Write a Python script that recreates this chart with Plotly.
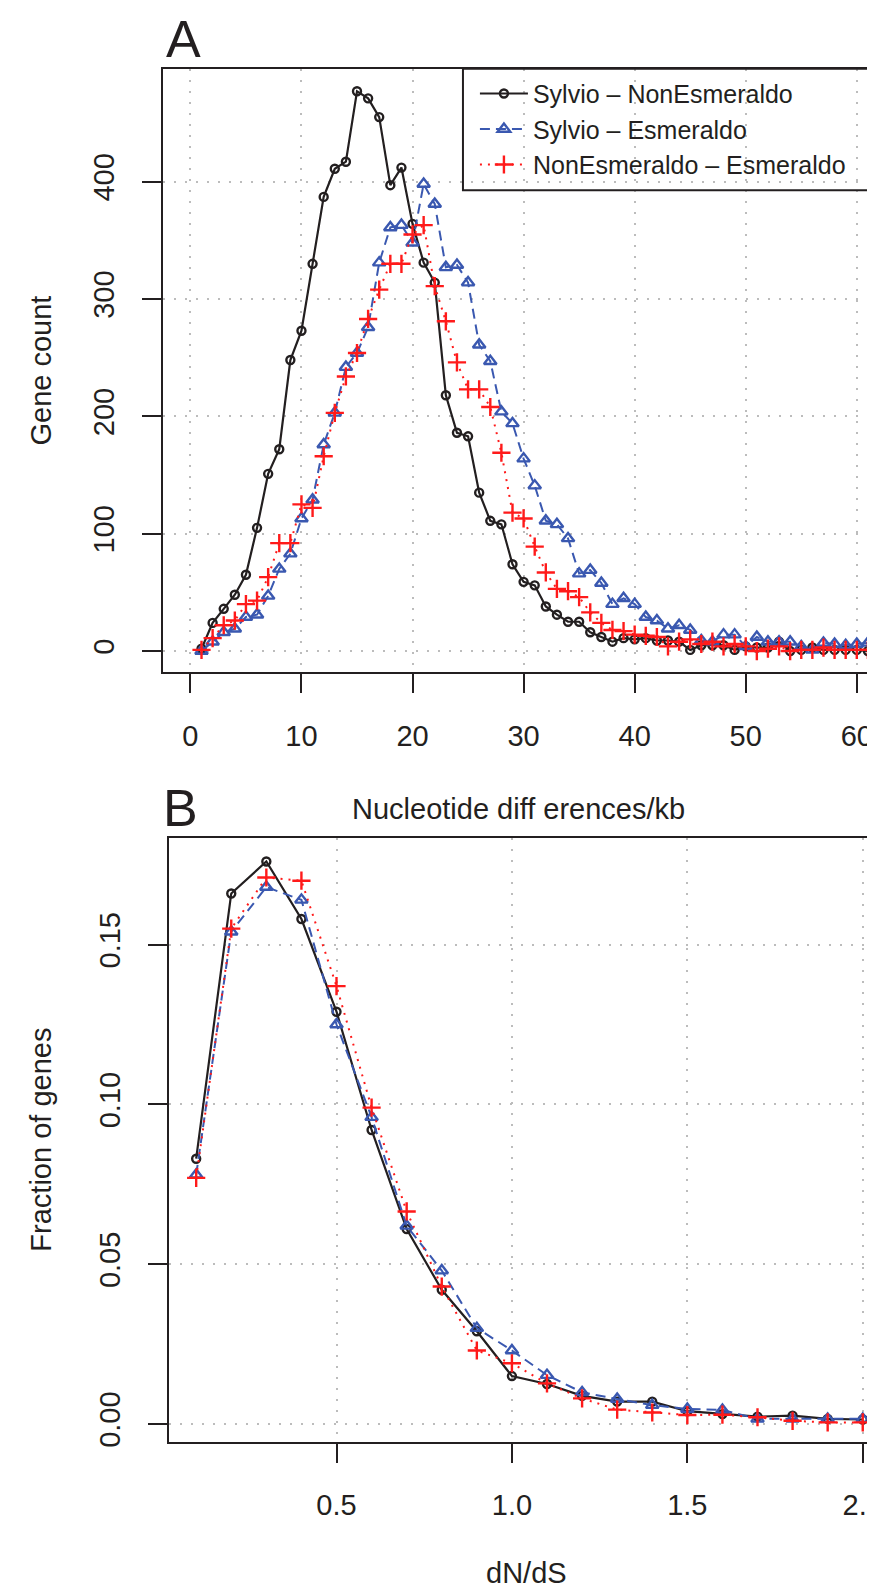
import plotly.graph_objects as go

W, H = 875, 1589

# ---------------- Panel A data ----------------
diff_kb = list(range(1, 63))
sylvio_nonesm_A = [2, 24, 36, 48, 65, 105, 151, 172, 248, 273,
                   330, 387, 411, 417, 477, 471, 455, 397, 412, 364,
                   331, 314, 218, 186, 183, 135, 111, 108, 74, 59,
                   56, 38, 31, 25, 25, 16, 12, 8, 11, 10,
                   11, 9, 9, 8, 1, 5, 5, 5, 1, 4,
                   3, 3, 8, 0, 1, 3, 1, 1, 1, 1,
                   0, 3]
sylvio_esm_A = [0, 8, 16, 19, 29, 31, 47, 70, 83, 113,
                129, 176, 203, 242, 254, 276, 331, 361, 363, 348,
                398, 381, 327, 329, 314, 261, 247, 204, 194, 164,
                141, 111, 108, 96, 66, 69, 58, 40, 45, 40,
                29, 26, 19, 22, 18, 9, 8, 14, 14, 4,
                12, 8, 8, 8, 4, 1, 7, 6, 5, 6,
                7, 4]
nonesm_esm_A = [1, 11, 22, 26, 40, 43, 63, 92, 92, 125,
                122, 166, 203, 234, 254, 283, 308, 330, 330, 355,
                363, 311, 281, 246, 223, 223, 208, 169, 118, 113,
                89, 67, 53, 51, 46, 33, 24, 18, 17, 14,
                13, 12, 4, 8, 10, 6, 8, 4, 6, 4,
                0, 2, 4, 0, 1, 1, 3, 1, 1, 1,
                1, 0]

# ---------------- Panel B data ----------------
dnds = [0.1, 0.2, 0.3, 0.4, 0.5, 0.6, 0.7, 0.8, 0.9, 1.0,
        1.1, 1.2, 1.3, 1.4, 1.5, 1.6, 1.7, 1.8, 1.9, 2.0]
sylvio_nonesm_B = [0.083, 0.166, 0.176, 0.158, 0.129, 0.092, 0.061, 0.042, 0.029, 0.015,
                   0.0125, 0.0088, 0.0070, 0.0070, 0.0040, 0.0031, 0.0023, 0.0026, 0.0016, 0.0014]
sylvio_esm_B = [0.078, 0.154, 0.168, 0.164, 0.125, 0.096, 0.062, 0.048, 0.030, 0.023,
                0.0153, 0.0099, 0.0078, 0.0059, 0.0047, 0.0044, 0.0016, 0.0016, 0.0016, 0.0016]
nonesm_esm_B = [0.077, 0.155, 0.171, 0.170, 0.137, 0.099, 0.0665, 0.043, 0.023, 0.019,
                0.0127, 0.0080, 0.0045, 0.0036, 0.0028, 0.0029, 0.0021, 0.0010, 0.0005, 0.0005]

series_names = ["Sylvio \u2013 NonEsmeraldo", "Sylvio \u2013 Esmeraldo", "NonEsmeraldo \u2013 Esmeraldo"]

x_ticks_A = [0, 10, 20, 30, 40, 50, 60]
y_ticks_A = [0, 100, 200, 300, 400]
x_ticks_B = [0.5, 1.0, 1.5, 2.0]
x_ticklabels_B = ["0.5", "1.0", "1.5", "2.0"]
y_ticks_B = [0.00, 0.05, 0.10, 0.15]
y_ticklabels_B = ["0.00", "0.05", "0.10", "0.15"]

INK = "#231f20"
BLUE = "#3a58b0"
RED = "#ff1a1a"
FONT = "Liberation Sans"

styles = [
    dict(line=dict(color=INK, width=2.2, dash="solid"),
         marker=dict(symbol="circle-open", size=8, color=INK, line=dict(width=2.4, color=INK))),
    dict(line=dict(color=BLUE, width=2, dash="10px,6px"),
         marker=dict(symbol="triangle-up-open", size=11, color=BLUE, line=dict(width=2.4, color=BLUE))),
    dict(line=dict(color=RED, width=2, dash="2px,6px"),
         marker=dict(symbol="cross-thin-open", size=13, color=RED, line=dict(width=2.4, color=RED))),
]

fig = go.Figure()

for name, ys, st in zip(series_names, [sylvio_nonesm_A, sylvio_esm_A, nonesm_esm_A], styles):
    fig.add_trace(go.Scatter(x=diff_kb, y=ys, mode="lines+markers", name=name,
                             line=st["line"], marker=st["marker"],
                             xaxis="x", yaxis="y", showlegend=True, cliponaxis=True))

for name, ys, st in zip(series_names, [sylvio_nonesm_B, sylvio_esm_B, nonesm_esm_B], styles):
    fig.add_trace(go.Scatter(x=dnds, y=ys, mode="lines+markers", name=name,
                             line=st["line"], marker=st["marker"],
                             xaxis="x2", yaxis="y2", showlegend=False, cliponaxis=True))

def px_x(v):
    return v / W

def px_y(v):
    return 1 - v / H

# panel geometry (pixels)
A_left, A_top, A_bottom = 155, 61, 667
B_left, B_top, B_bottom = 161, 833, 1439

axis_common = dict(
    showline=True, linecolor=INK, linewidth=2,
    ticks="outside", ticklen=19, tickwidth=1.6, tickcolor=INK,
    showgrid=True, gridcolor="#bcbcbc", griddash="2px,9px", gridwidth=1.6,
    zeroline=False,
    tickfont=dict(family=FONT, size=29, color=INK),
    ticklabeloverflow="allow",
)

fig.update_layout(
    width=W, height=H,
    margin=dict(l=0, r=0, t=0, b=0),
    paper_bgcolor="white", plot_bgcolor="white",
    font=dict(family=FONT, color=INK),
    xaxis=dict(domain=[px_x(A_left), 1], range=[-2.5, 62.18], anchor="y",
               tickvals=x_ticks_A, mirror=True, ticklabelstandoff=18, **axis_common),
    yaxis=dict(domain=[px_y(A_bottom), px_y(A_top)], range=[-18.25, 496.2], anchor="x",
               tickvals=y_ticks_A, tickangle=-90, mirror=False, ticklabelstandoff=16, **axis_common),
    xaxis2=dict(domain=[px_x(B_left), 1], range=[0.0215, 2.052], anchor="y2",
                tickvals=x_ticks_B, ticktext=x_ticklabels_B, mirror=True, ticklabelstandoff=18, **axis_common),
    yaxis2=dict(domain=[px_y(B_bottom), px_y(B_top)], range=[-0.0055, 0.1834], anchor="x2",
                tickvals=y_ticks_B, ticktext=y_ticklabels_B, tickangle=-90, mirror=False,
                ticklabelstandoff=16, **axis_common),
    legend=dict(x=px_x(468), y=px_y(63), xanchor="left", yanchor="top",
                bgcolor="rgba(0,0,0,0)", borderwidth=0,
                font=dict(family=FONT, size=25, color=INK),
                itemwidth=48, tracegroupgap=0),
    showlegend=True,
)

# legend frame (extends past the right edge, as in the original)
fig.add_shape(type="rect", xref="paper", yref="paper",
              x0=px_x(456), x1=px_x(900), y0=px_y(183), y1=px_y(61),
              line=dict(color=INK, width=2), fillcolor="rgba(0,0,0,0)", layer="above")

ann = [
    dict(text="A", x=px_x(176), y=px_y(31), size=52, angle=0, ya="middle"),
    dict(text="Gene count", x=px_x(33), y=px_y(364), size=29, angle=-90, ya="middle"),
    dict(text="Nucleotide diff erences/kb", x=px_x(512), y=px_y(804), size=29, angle=0, ya="middle"),
    dict(text="B", x=px_x(173), y=px_y(803), size=52, angle=0, ya="middle"),
    dict(text="Fraction of genes", x=px_x(33), y=px_y(1136), size=29, angle=-90, ya="middle"),
    dict(text="dN/dS", x=px_x(520), y=0, size=29, angle=0, ya="bottom"),
]
for a in ann:
    fig.add_annotation(text=a["text"], x=a["x"], y=a["y"], xref="paper", yref="paper",
                       xanchor="center", yanchor=a["ya"], showarrow=False, textangle=a["angle"],
                       font=dict(family=FONT, size=a["size"], color=INK))

fig.write_html("out.html")
